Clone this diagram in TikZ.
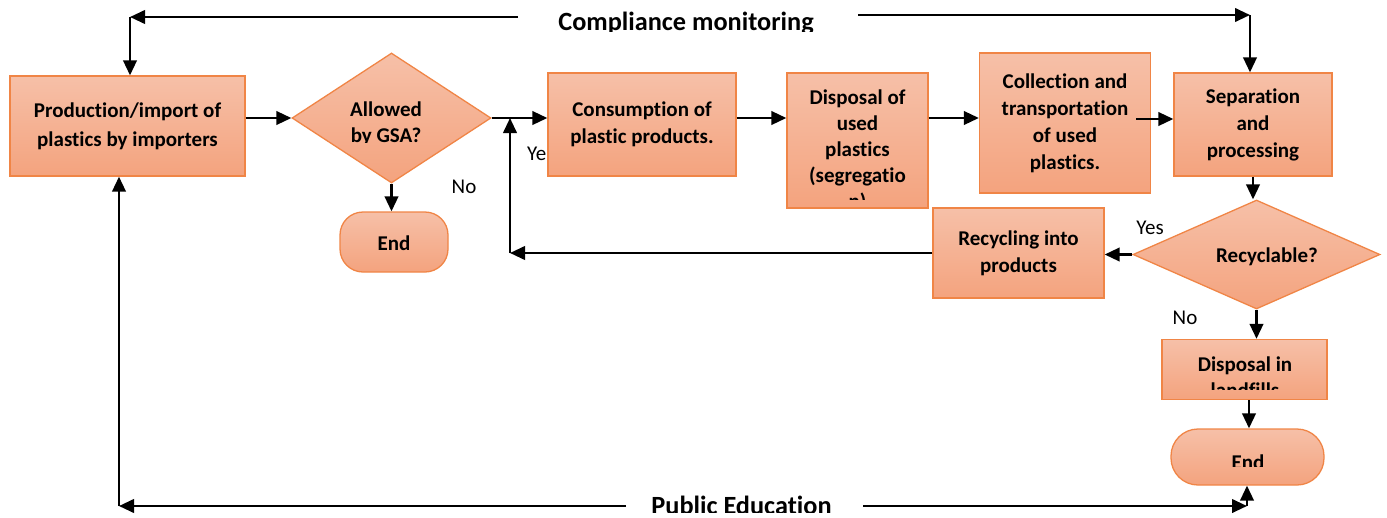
\documentclass[tikz,border=0pt]{standalone}
\usepackage{fontspec}
\setmainfont{Carlito}[Ligatures=NoCommon]
\usetikzlibrary{shapes.geometric, arrows.meta}
\definecolor{boxtop}{RGB}{246,192,168}
\definecolor{boxbot}{RGB}{244,163,126}
\definecolor{boxline}{RGB}{240,133,70}

\begin{document}
\begin{tikzpicture}[x=1pt,y=-1pt,
  box/.style={draw=boxline, line width=1.3pt, top color=boxtop, bottom color=boxbot,
    inner sep=0pt, align=center, font=\bfseries\fontsize{21}{27}\selectfont},
  decision/.style={box, diamond},
  terminal/.style={box, rounded corners=#1},
  flow/.style={line width=2.4pt, -{Triangle[length=15pt,width=13.5pt]}},
  lbl/.style={font=\fontsize{21}{25}\selectfont, inner sep=0pt},
  boxtext/.style={font=\bfseries\fontsize{21}{26}\selectfont, align=center, inner sep=0pt},
  banner/.style={font=\bfseries\fontsize{26.3}{30}\selectfont, inner sep=0pt}
]
\useasboundingbox (0,0) rectangle (1387,517);

% "Yes" branch label, partly covered by the consumption box
\node[lbl, anchor=base west] (yes1) at (527,160) {Yes};

% process boxes
\node[box, minimum width=235pt, minimum height=100pt,
  font=\bfseries\fontsize{21}{29}\selectfont] (prod) at (127.5,126) {Production/import of\\plastics by importers};
\node[decision, minimum width=199pt, minimum height=130pt] (allow) at (391.5,118) {};
\node[terminal=23pt, minimum width=108pt, minimum height=60pt] (end1) at (394,242) {};
\node[boxtext, anchor=base] (end1txt) at (394,250) {End};
\node[box, minimum width=188pt, minimum height=103pt] (cons) at (642,124.5) {Consumption of\\plastic products.};
\node[box, minimum width=141pt, minimum height=135pt] (disp) at (857.5,140.5) {};
\node[box, minimum width=171pt, minimum height=140pt] (coll) at (1065,123) {Collection and\\transportation\\of used\\plastics.};
\node[box, minimum width=158pt, minimum height=103pt] (sep) at (1253,124.5) {Separation\\and\\processing};
\node[decision, minimum width=247pt, minimum height=109pt] (recy) at (1256.5,254.5) {};
\node[box, minimum width=171pt, minimum height=90pt] (recp) at (1018.5,253) {Recycling into\\products};
\node[box, minimum width=165pt, minimum height=60pt] (land) at (1244.5,369.5) {};
\node[terminal=27pt, minimum width=153pt, minimum height=56pt] (end2) at (1247.5,457) {};

% texts that overflow their shapes and are cut off (base = last line)
\begin{scope}
  \clip (300,60) rectangle (480,142);
  \node[boxtext, anchor=base] (allowtxt) at (386,142.5) {Allowed\\by GSA?};
\end{scope}
\node[boxtext, anchor=base] (recytxt) at (1267,262) {Recyclable?};
\begin{scope}
  \clip (788,74) rectangle (927,199);
  \node[boxtext, anchor=base] (disptxt) at (857.5,208) {Disposal of\\used\\plastics\\(segregatio\\n)};
\end{scope}
\begin{scope}
  \clip (1163,341) rectangle (1326,389.5);
  \node[boxtext, anchor=base] (landtxt) at (1245,397) {Disposal in\\landfills};
\end{scope}
\begin{scope}
  \clip (1172,431) rectangle (1323,466);
  \node[boxtext, anchor=base] (end2txt) at (1248,469.5) {End};
\end{scope}
\begin{scope}
  \clip (540,0) rectangle (840,31);
  \node[banner, anchor=base] (comp) at (686,30) {Compliance monitoring};
\end{scope}
\begin{scope}
  \clip (640,480) rectangle (845,512);
  \node[banner, anchor=base] (pubed) at (741.5,514) {Public Education};
\end{scope}

% branch labels
\node[lbl, anchor=base] (no1) at (464,193) {No};
\node[lbl, anchor=base] (yes2) at (1150,234) {Yes};
\node[lbl, anchor=base] (no2) at (1185,324) {No};

% main flow
\draw[flow] (prod.east |- allow.west) -- (allow.west);
\draw[flow] (allow.south) -- (allow.south |- end1.north);
\draw[flow] (allow.east) -- (cons.west |- allow.east);
\draw[flow] (cons.east |- allow.east) -- (disp.west |- allow.east);
\draw[flow] (disp.east |- allow.east) -- (coll.west |- allow.east);
\coordinate (c2s) at (1136,119);
\draw[flow] (c2s) -- (sep.west |- c2s);
\draw[flow] (sep.south) -- (sep.south |- recy.north);
\draw[flow] (recy.west) -- (recp.east |- recy.west);
\draw[flow] (recy.south) -- (recy.south |- land.north);
\draw[flow] ([xshift=4.5pt]land.south) -- ([xshift=4.5pt]land.south |- end2.north);

% recycling loop back into consumption
\coordinate (loop) at (510,253);
\draw[flow] (recp.west) -- (loop);
\draw[flow] (loop) -- (loop |- allow.east);

% compliance monitoring
\coordinate (cmL) at (518,17);
\coordinate (tl) at (130,17);
\draw[flow] (cmL) -- (tl);
\draw[flow] (tl) -- (tl |- prod.north);
\coordinate (cmR) at (858,15);
\coordinate (tr) at (1250,15);
\draw[flow] (cmR) -- (tr);
\draw[flow] (tr) -- (tr |- sep.north);

% public education
\coordinate (peL) at (626,506);
\coordinate (bl) at (119,506);
\draw[flow] (peL) -- (bl);
\draw[flow] (bl) -- (bl |- prod.south);
\coordinate (peR) at (863,506);
\coordinate (br) at (1247,506);
\draw[flow] (peR) -- (br);
\draw[flow] (br) -- (br |- end2.south);
\end{tikzpicture}
\end{document}
